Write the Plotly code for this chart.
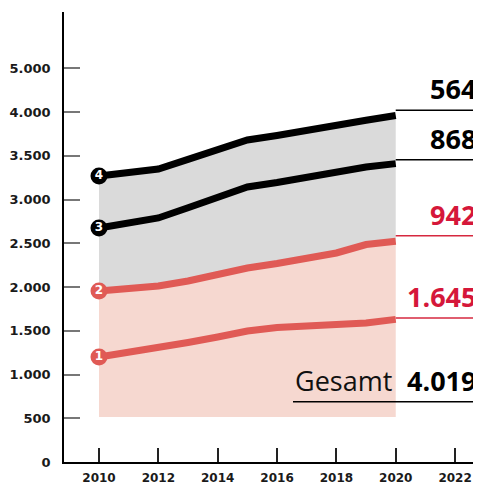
import plotly.graph_objects as go

# ---- data (cumulative stacked levels) ----
years = [2010, 2011, 2012, 2013, 2014, 2015, 2016, 2017, 2018, 2019, 2020]
level1 = [1200, 1251, 1303, 1366, 1429, 1497, 1537, 1549, 1560, 1589, 1630]
level2 = [1954, 1989, 2011, 2069, 2143, 2217, 2269, 2320, 2389, 2485, 2522]
level3 = [2674, 2731, 2789, 2906, 3025, 3143, 3194, 3251, 3326, 3371, 3410]
level4 = [3269, 3309, 3349, 3459, 3569, 3680, 3731, 3783, 3851, 3905, 3960]

segment_labels = ["1.645", "942", "868", "564"]
segment_values = [1645, 942, 868, 564]
total_label = "4.019"
total_text = "Gesamt"

y_tickvals = [0, 500, 1000, 1500, 2000, 2500, 3000, 3500, 4000, 4500]
y_ticktext = ["0", "500", "1.000", "1.500", "2.000", "2.500", "3.000", "3.500", "4.000", "5.000"]
x_tickvals = [2010, 2012, 2014, 2016, 2018, 2020, 2022]

RED = "#e05a55"
RED_TXT = "#d5173a"
PINK = "#f6d8d0"
GRAY = "#dadada"
BLACK = "#000000"
BASE = 515

fig = go.Figure()

# fills
fig.add_trace(go.Scatter(x=years, y=[BASE] * len(years), mode="lines",
                         line=dict(width=0), hoverinfo="skip", showlegend=False))
fig.add_trace(go.Scatter(x=years, y=level2, mode="lines", fill="tonexty",
                         fillcolor=PINK, line=dict(width=0), hoverinfo="skip", showlegend=False))
fig.add_trace(go.Scatter(x=years, y=level4, mode="lines", fill="tonexty",
                         fillcolor=GRAY, line=dict(width=0), hoverinfo="skip", showlegend=False))

# lines
for lv, col in [(level1, RED), (level2, RED), (level3, BLACK), (level4, BLACK)]:
    fig.add_trace(go.Scatter(x=years, y=lv, mode="lines",
                             line=dict(color=col, width=7), showlegend=False))

# numbered markers at start
marker_cols = [RED, RED, BLACK, BLACK]
starts = [level1[0], level2[0], level3[0], level4[0]]
fig.add_trace(go.Scatter(
    x=[years[0]] * 4, y=starts, mode="markers+text",
    marker=dict(size=17, color=marker_cols, line=dict(width=0)),
    text=["1", "2", "3", "4"], textposition="middle center",
    textfont=dict(family="DejaVu Sans", size=12, color="white", weight="bold"),
    showlegend=False))

# right-side labels
cum = 0
label_cols = [RED_TXT, RED_TXT, BLACK, BLACK]
line_cols = ["#d6283f", "#d6283f", BLACK, BLACK]
for lab, val, tc, lc in zip(segment_labels, segment_values, label_cols, line_cols):
    cum += val
    fig.add_shape(type="line", xref="x", yref="y", x0=2020, x1=2022.84, y0=cum, y1=cum,
                  line=dict(color=lc, width=1.5))
    fig.add_annotation(xref="paper", yref="y", x=0.995, y=cum, yshift=1,
                       xanchor="right", yanchor="bottom", text=lab, showarrow=False,
                       font=dict(family="Open Sans", size=27, color=tc, weight="bold"))

# Gesamt
GES_Y = 690
fig.add_shape(type="line", xref="paper", yref="y", x0=(293 - 64) / 416, x1=1, y0=GES_Y, y1=GES_Y,
              line=dict(color=BLACK, width=1.5))
fig.add_annotation(xref="paper", yref="y", x=0.995, y=GES_Y, yshift=1,
                   xanchor="right", yanchor="bottom", text=total_label, showarrow=False,
                   font=dict(family="Open Sans", size=27, color=BLACK, weight="bold"))
fig.add_annotation(xref="paper", yref="y", x=(394 - 64) / 416, y=GES_Y, yshift=1,
                   xanchor="right", yanchor="bottom", text=total_text, showarrow=False,
                   font=dict(family="Open Sans", size=27, color="#111111"))

# page has an 8px body margin: figure is sized/offset to land on the reference pixels
fig.update_layout(
    width=473, height=482,
    margin=dict(l=56, r=1, t=4, b=28),
    plot_bgcolor="white", paper_bgcolor="white",
    xaxis=dict(range=[2008.82, 2022.84], tickvals=x_tickvals, showgrid=False, zeroline=False,
               showline=True, linecolor=BLACK, linewidth=1.5,
               ticks="inside", ticklen=14, tickwidth=1.5, tickcolor="#222222",
               tickfont=dict(family="DejaVu Sans", size=12, color="#1a1a1a", weight="bold"),
               ticklabelstandoff=4),
    yaxis=dict(range=[0, 5143], tickvals=y_tickvals, ticktext=y_ticktext, showgrid=False,
               zeroline=False, showline=True, linecolor=BLACK, linewidth=1.5,
               ticks="inside", ticklen=16, tickwidth=1.5, tickcolor="#777777",
               tickfont=dict(family="DejaVu Sans", size=13, color="#1a1a1a", weight="bold"),
               ticklabelstandoff=9),
)

fig.write_html("out.html")
